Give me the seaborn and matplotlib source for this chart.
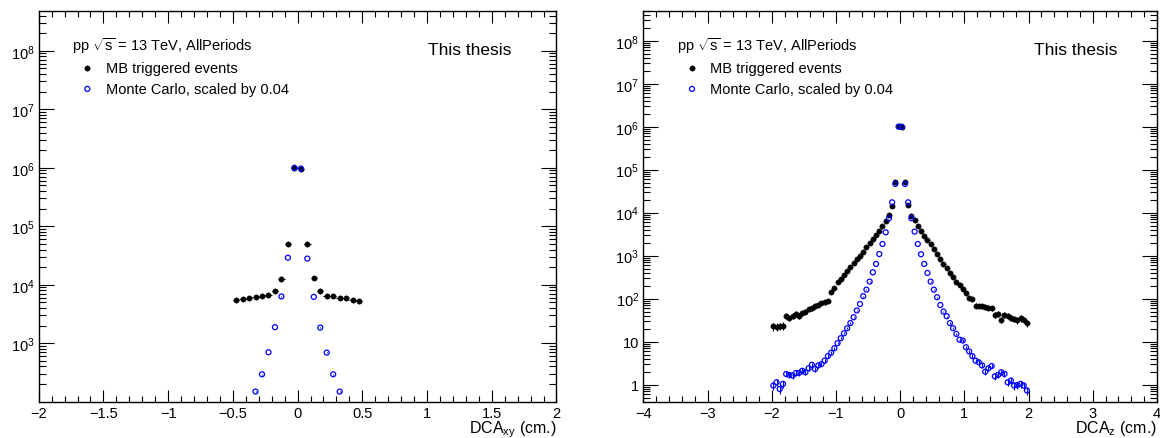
import numpy as np
import matplotlib
matplotlib.use("Agg")
import matplotlib.pyplot as plt
import seaborn as sns
from matplotlib.ticker import (FixedLocator, MultipleLocator, LogLocator,
                               FuncFormatter, NullFormatter)

# ---------------- data ----------------
# DCA_xy histogram, 0.05 cm bins
dcaxy_centers = [-0.475, -0.425, -0.375, -0.325, -0.275, -0.225, -0.175, -0.125,
                 -0.075, -0.025, 0.025, 0.075, 0.125, 0.175, 0.225, 0.275,
                 0.325, 0.375, 0.425, 0.475]
dcaxy_data = [5400, 5700, 5900, 6100, 6300, 6600, 7900, 12600, 49000, 1.0e6,
              0.96e6, 50000, 12900, 7700, 6500, 6300, 5900, 5900, 5500, 5300]
dcaxy_mc_centers = [-0.325, -0.275, -0.225, -0.175, -0.125, -0.075, -0.025,
                    0.025, 0.075, 0.125, 0.175, 0.225, 0.275, 0.325]
dcaxy_mc = [149, 294, 700, 1880, 6300, 29000, 1.0e6,
            0.97e6, 28000, 6200, 1850, 690, 294, 149]

# DCA_z histogram, 0.05 cm bins from -2 to 2
dcaz_edges = np.linspace(-2.0, 2.0, 81)
dcaz_centers = 0.5 * (dcaz_edges[:-1] + dcaz_edges[1:])
dcaz_data = [22.7, 22, 23, 23.6, 40, 36, 39, 44, 39, 46,
             50, 56, 60, 66, 71, 79, 82, 88, 141, 174,
             240, 287, 356, 449, 536, 676, 838, 1000, 1240, 1560,
             1970, 2440, 3030, 3820, 4800, 6500, 8800, 14600, 52700, 1.02e6,
             1.0e6, 52700, 15100, 8500, 6600, 4990, 3820, 2920, 2280, 1840,
             1430, 1080, 838, 653, 508, 396, 314, 249, 208, 168,
             136, 106, 98, 69, 68, 66, 63, 62, 60, 42,
             44, 32.5, 42, 39, 36, 34, 31, 35, 32.5, 27]
dcaz_mc = [0.95, 1.13, 0.79, 1.04, 1.77, 1.68, 1.62, 1.85, 1.87, 2.1,
           1.94, 2.4, 2.9, 2.3, 2.8, 3.0, 3.6, 4.6, 5.5, 7.0,
           9.2, 12.0, 15.6, 20.5, 27, 37, 53, 75, 114, 162,
           249, 410, 641, 1090, 1870, 3490, 7400, 17400, 46500, 1.0e6,
           1.0e6, 46500, 17400, 7400, 3620, 1870, 1080, 641, 396, 249,
           162, 108, 71, 50, 39, 27, 20.5, 15.1, 11.1, 10.6,
           7.4, 5.9, 4.6, 3.6, 3.3, 2.8, 2.0, 2.4, 2.7, 1.56,
           1.68, 1.94, 1.77, 1.13, 1.24, 0.95, 0.98, 1.04, 0.95, 0.73]

mc_scale = 0.04
half_bin = 0.025
header = r"pp $\sqrt{s}$ = 13 TeV, AllPeriods"
data_label = "MB triggered events"
mc_label = "Monte Carlo, scaled by 0.04"
tag = "This thesis"

# ---------------- style ----------------
sns.set_theme(style="ticks")
plt.rcParams["font.family"] = ["Liberation Sans", "DejaVu Sans"]
plt.rcParams["mathtext.fontset"] = "custom"
plt.rcParams["mathtext.rm"] = "Liberation Sans"
plt.rcParams["mathtext.it"] = "Liberation Sans:italic"
plt.rcParams["mathtext.bf"] = "Liberation Sans:bold"
plt.rcParams["mathtext.sf"] = "Liberation Sans"
plt.rcParams["mathtext.default"] = "regular"
plt.rcParams["axes.unicode_minus"] = True
plt.rcParams["text.color"] = "black"
plt.rcParams["axes.labelcolor"] = "black"
plt.rcParams["legend.labelcolor"] = "black"

BLUE = "#0000ff"
W, H = 1160, 439
fig = plt.figure(figsize=(W / 100, H / 100), dpi=100)
fig.patch.set_facecolor("white")

axL = fig.add_axes([38.7 / W, 36.3 / H, 517.8 / W, 391 / H])
axR = fig.add_axes([643.3 / W, 36.3 / H, 513.7 / W, 391 / H])


def log_label(v, pos):
    e = int(round(np.log10(v)))
    if e == 0:
        return "1"
    if e == 1:
        return "10"
    return r"$10^{%d}$" % e


def lin_label(v, pos):
    s = "%g" % round(v, 3)
    if s == "-0":
        s = "0"
    return s.replace("-", "\u2212")


def draw(ax, x, y, xm, ym):
    x = np.asarray(x, float)
    y = np.asarray(y, float)
    xm = np.asarray(xm, float)
    ym = np.asarray(ym, float)
    ax.errorbar(x, y, xerr=half_bin, yerr=np.sqrt(y), fmt="none",
                ecolor="black", elinewidth=0.8, capsize=0, zorder=2,
                label="_nolegend_")
    sns.scatterplot(x=x, y=y, ax=ax, marker="o", s=15, color="black",
                    edgecolor="black", linewidth=0.3, label=data_label,
                    zorder=3, legend=False)
    ax.errorbar(xm, ym, yerr=np.sqrt(ym * mc_scale), fmt="none",
                ecolor=BLUE, elinewidth=0.8, capsize=0, zorder=2,
                label="_nolegend_")
    sns.scatterplot(x=xm, y=ym, ax=ax, marker="o", s=13, color="none",
                    edgecolor=BLUE, linewidth=0.9, label=mc_label,
                    zorder=4, legend=False)


def style_axes(ax, xlim, xmajor, xminor, ylim, ymajors, xlabel, tag_x):
    ax.set_yscale("log")
    ax.set_xlim(*xlim)
    ax.set_ylim(*ylim)
    ax.xaxis.set_major_locator(MultipleLocator(xmajor))
    ax.xaxis.set_minor_locator(MultipleLocator(xminor))
    ax.xaxis.set_major_formatter(FuncFormatter(lin_label))
    ax.yaxis.set_major_locator(FixedLocator(ymajors))
    ax.yaxis.set_minor_locator(LogLocator(base=10, subs=np.arange(2, 10), numticks=30))
    ax.yaxis.set_major_formatter(FuncFormatter(log_label))
    ax.yaxis.set_minor_formatter(NullFormatter())
    ax.tick_params(axis="both", which="both", direction="in", top=True,
                   right=True, colors="black", labelsize=10.5, width=0.8)
    ax.tick_params(axis="x", which="major", length=8.6, pad=3)
    ax.tick_params(axis="x", which="minor", length=4.3)
    ax.tick_params(axis="y", which="major", length=10.8, pad=3)
    ax.tick_params(axis="y", which="minor", length=5)
    for sp in ax.spines.values():
        sp.set_visible(True)
        sp.set_color("black")
        sp.set_linewidth(1.0)
    ax.set_facecolor("white")
    ax.set_ylabel("")
    ax.set_xlabel(xlabel, loc="right", fontsize=11.5, labelpad=-1, color="black")
    ax.text(tag_x, 0.8995, tag, transform=ax.transAxes, fontsize=12.5,
            ha="left", va="center", color="black")
    handles, labels = ax.get_legend_handles_labels()
    leg = ax.legend(handles, labels, title=header, loc="upper left",
                    bbox_to_anchor=(33.8 / ax.bbox.width, 1 - 24 / 391),
                    frameon=False, fontsize=10.5, title_fontsize=10.5,
                    handlelength=2.04, handletextpad=0.25, borderpad=0,
                    borderaxespad=0, labelspacing=0.45, markerscale=1.0)
    leg.get_title().set_color("black")
    for t in leg.get_texts():
        t.set_color("black")
    leg._legend_box.align = "left"


draw(axL, dcaxy_centers, dcaxy_data, dcaxy_mc_centers, dcaxy_mc)
style_axes(axL, (-2, 2), 0.5, 0.1, (100, 4.85e8),
           [1e3, 1e4, 1e5, 1e6, 1e7, 1e8], r"DCA$_{xy}$ (cm.)", 0.752)

draw(axR, dcaz_centers, dcaz_data, dcaz_centers, dcaz_mc)
style_axes(axR, (-4, 4), 1, 0.2, (0.4, 5e8),
           [1, 10, 1e2, 1e3, 1e4, 1e5, 1e6, 1e7, 1e8], r"DCA$_{z}$ (cm.)", 0.7606)

fig.savefig("out.png", dpi=100, facecolor="white")
